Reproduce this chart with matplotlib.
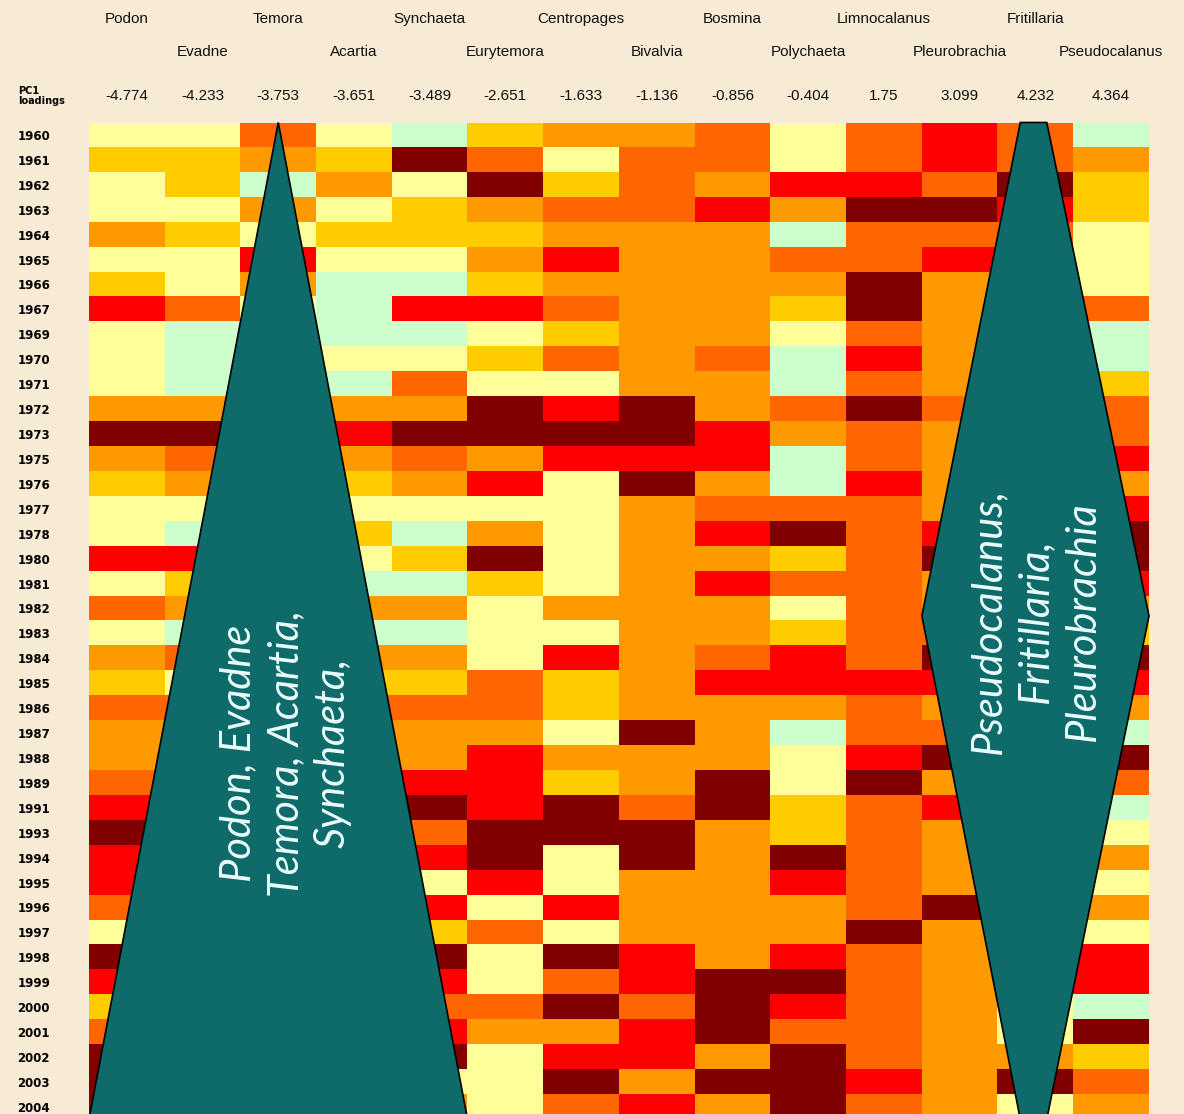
import numpy as np
import matplotlib.pyplot as plt
from matplotlib.colors import ListedColormap, BoundaryNorm
from matplotlib.patches import Polygon

years = [1960, 1961, 1962, 1963, 1964, 1965, 1966, 1967, 1969, 1970,
         1971, 1972, 1973, 1975, 1976, 1977, 1978, 1980, 1981, 1982,
         1983, 1984, 1985, 1986, 1987, 1988, 1989, 1991, 1993, 1994,
         1995, 1996, 1997, 1998, 1999, 2000, 2001, 2002, 2003, 2004]

species = ['Podon', 'Evadne', 'Temora', 'Acartia', 'Synchaeta', 'Eurytemora',
           'Centropages', 'Bivalvia', 'Bosmina', 'Polychaeta', 'Limnocalanus',
           'Pleurobrachia', 'Fritillaria', 'Pseudocalanus']
pc1_loadings = [-4.774, -4.233, -3.753, -3.651, -3.489, -2.651, -1.633,
                -1.136, -0.856, -0.404, 1.75, 3.099, 4.232, 4.364]

# abundance class per year, 0 = lowest ... 6 = highest
podon = [1, 2, 1, 1, 3, 1, 2, 5, 1, 1, 1, 3, 6, 3, 2, 1, 1, 5, 1, 4,
         1, 3, 2, 4, 3, 3, 4, 5, 6, 5, 5, 4, 1, 6, 5, 2, 4, 6, 6, 6]
evadne = [1, 2, 2, 1, 2, 1, 1, 4, 0, 0, 0, 3, 6, 4, 3, 1, 0, 5, 2, 3,
          0, 4, 1, 4, 3, 3, 5, 5, 6, 5, 5, 3, 1, 6, 5, 2, 4, 6, 6, 5]
temora = [4, 3, 0, 3, 1, 5, 3, 1, 0, 1, 0, 3, 5, 3, 2, 1, 2, 1, 0, 3,
          0, 3, 2, 4, 3, 3, 5, 6, 4, 5, 1, 5, 2, 6, 5, 4, 5, 6, 1, 3]
acartia = [1, 2, 3, 1, 2, 1, 0, 0, 0, 1, 0, 3, 5, 3, 2, 1, 2, 1, 0, 3,
           0, 3, 2, 4, 3, 4, 5, 5, 4, 5, 2, 5, 3, 6, 5, 4, 5, 6, 1, 3]
synchaeta = [0, 6, 1, 2, 2, 1, 0, 5, 0, 1, 4, 3, 6, 4, 3, 1, 0, 2, 0, 3,
             0, 3, 2, 4, 3, 3, 5, 6, 4, 5, 1, 5, 2, 6, 5, 4, 5, 6, 1, 3]
eurytemora = [2, 4, 6, 3, 2, 3, 2, 5, 1, 2, 1, 6, 6, 3, 5, 1, 3, 6, 2, 1,
              1, 1, 4, 4, 3, 5, 5, 5, 6, 6, 5, 1, 4, 1, 1, 4, 3, 1, 1, 1]
centropages = [3, 1, 2, 4, 3, 5, 3, 4, 2, 4, 1, 5, 6, 5, 1, 1, 1, 1, 1, 3,
               1, 5, 2, 2, 1, 3, 2, 6, 6, 1, 1, 5, 1, 6, 4, 6, 3, 5, 6, 4]
bivalvia = [3, 4, 4, 4, 3, 3, 3, 3, 3, 3, 3, 6, 6, 5, 6, 3, 3, 3, 3, 3,
            3, 3, 3, 3, 6, 3, 3, 4, 6, 6, 3, 3, 3, 5, 5, 4, 5, 5, 3, 5]
bosmina = [4, 4, 3, 5, 3, 3, 3, 3, 3, 4, 3, 3, 5, 5, 3, 4, 5, 3, 5, 3,
           3, 4, 5, 3, 3, 3, 6, 6, 3, 3, 3, 3, 3, 3, 6, 6, 6, 3, 6, 3]
polychaeta = [1, 1, 5, 3, 0, 4, 3, 2, 1, 0, 0, 4, 3, 0, 0, 4, 6, 2, 4, 1,
              2, 5, 5, 3, 0, 1, 1, 2, 2, 6, 5, 3, 3, 5, 6, 5, 4, 6, 6, 6]
limnocalanus = [4, 4, 5, 6, 4, 4, 6, 6, 4, 5, 4, 6, 4, 4, 5, 4, 4, 4, 4, 4,
                4, 4, 5, 4, 4, 5, 6, 4, 4, 4, 4, 4, 6, 4, 4, 4, 4, 4, 5, 4]
pleurobrachia = [5, 5, 4, 6, 4, 5, 3, 3, 3, 3, 3, 4, 3, 3, 3, 3, 5, 6, 3, 3,
                 4, 6, 5, 3, 4, 6, 3, 5, 3, 3, 3, 6, 3, 3, 3, 3, 3, 3, 3, 3]
fritillaria = [4, 4, 6, 5, 4, 5, 3, 3, 3, 3, 3, 4, 3, 5, 3, 5, 6, 6, 5, 3,
               2, 6, 5, 3, 0, 6, 4, 0, 1, 3, 1, 3, 1, 5, 5, 1, 1, 3, 6, 1]
pseudocalanus = [0, 3, 2, 2, 1, 1, 1, 4, 0, 0, 2, 4, 4, 5, 3, 5, 6, 6, 5, 3,
                 2, 6, 5, 3, 0, 6, 4, 0, 1, 3, 1, 3, 1, 5, 5, 0, 6, 2, 4, 3]

level_colors = ['#ccffcc', '#ffff99', '#ffcc00', '#ff9900',
                '#ff6600', '#ff0000', '#800000']

grid = np.column_stack([podon, evadne, temora, acartia, synchaeta, eurytemora,
                        centropages, bivalvia, bosmina, polychaeta, limnocalanus,
                        pleurobrachia, fritillaria, pseudocalanus])
nrow, ncol = grid.shape

W, H = 1184, 1114
fig = plt.figure(figsize=(W / 100, H / 100), dpi=100)
fig.patch.set_facecolor('#f8ebd5')

# heatmap block in pixel placement: x 89..1149, rows 24.92 px tall from y=122.5
x0, x1 = 89, 1149
y0, rh = 122.5, 24.92
ax = fig.add_axes([x0 / W, 1 - (y0 + nrow * rh) / H, (x1 - x0) / W, nrow * rh / H])
cmap = ListedColormap(level_colors)
norm = BoundaryNorm(np.arange(-0.5, 7.5, 1), cmap.N)
ax.imshow(grid, cmap=cmap, norm=norm, aspect='auto', interpolation='nearest',
          extent=(0, ncol, nrow, 0))
ax.set_xlim(0, ncol)
ax.set_ylim(nrow, 0)
for s in ax.spines.values():
    s.set_visible(False)
ax.set_xticks([])
ax.set_yticks(np.arange(nrow) + 0.5)
ax.set_yticklabels([str(y) for y in years], fontsize=8.5, fontweight='bold',
                   family='DejaVu Sans')
ax.tick_params(axis='y', length=0, pad=28)

hfont = dict(family='Liberation Sans', fontsize=11, color='#111111')
for i, name in enumerate(species):
    ypos = -4.15 if i % 2 == 0 else -2.83
    ax.text(i + 0.5, ypos, name, ha='center', va='center', **hfont)
    ax.text(i + 0.5, -1.06, f'{pc1_loadings[i]:g}', ha='center', va='center', **hfont)
ax.text(-0.94, -1.06, 'PC1\nloadings', ha='left', va='center', fontsize=7,
        fontweight='bold', family='DejaVu Sans', linespacing=1.0)

teal = '#0f6a6a'
# negative-loading group: triangle widening downwards
left_tri = Polygon([(2.5, 0), (5.0, 40.0), (0.0, 40.0)], closed=True,
                   facecolor=teal, edgecolor='black', lw=1.2, clip_on=False)
ax.add_patch(left_tri)
# positive-loading group: elongated diamond
right_dia = Polygon([(12.3, 0), (12.65, 0), (14.0, 19.8), (12.65, 40.0),
                     (12.3, 40.0), (11.0, 19.8)], closed=True,
                    facecolor=teal, edgecolor='black', lw=1.2, clip_on=False)
ax.add_patch(right_dia)

tfont = dict(family='Lato', style='italic', fontweight='normal', fontsize=30,
             color='#eafcfc', rotation=90, ha='center', va='center',
             multialignment='center', linespacing=1.3)
ax.text(2.6, 25.3, 'Podon, Evadne\nTemora, Acartia,\nSynchaeta,', **tfont)
ax.text(12.5, 20.0, 'Pseudocalanus,\nFritillaria,\nPleurobrachia', **tfont)

fig.savefig('out.png', dpi=100, facecolor=fig.get_facecolor())
